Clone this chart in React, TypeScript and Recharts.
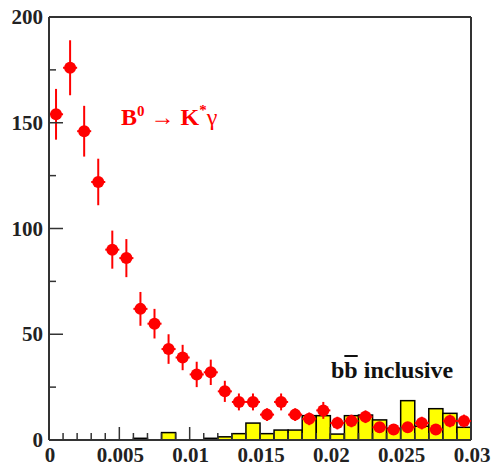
import React from "react";
import {
  ComposedChart,
  Bar,
  Scatter,
  ErrorBar,
  XAxis,
  YAxis,
  ReferenceLine,
} from "recharts";

// bin centres of the 30 bins (0 .. 0.03)
const binCenters = [
  0.0005, 0.0015, 0.0025, 0.0035, 0.0045, 0.0055, 0.0065, 0.0075, 0.0085, 0.0095,
  0.0105, 0.0115, 0.0125, 0.0135, 0.0145, 0.0155, 0.0165, 0.0175, 0.0185, 0.0195,
  0.0205, 0.0215, 0.0225, 0.0235, 0.0245, 0.0255, 0.0265, 0.0275, 0.0285, 0.0295,
];

// B0 -> K* gamma (red points)
const signal = [
  154, 176, 146, 122, 90, 86, 62, 55, 43, 39,
  31, 32, 23, 18, 18, 12, 18, 12, 10, 14,
  8, 9, 11, 6, 5, 6, 8, 5, 9, 9,
];
const signalErr = [
  12, 13, 12, 11, 9, 9, 8, 7, 7, 6,
  6, 6, 5, 4, 4, 3, 4, 3, 3, 4,
  3, 3, 3, 2, 2, 2, 3, 2, 3, 3,
];

// bb inclusive (yellow histogram)
const inclusive = [
  0, 0, 0, 0, 0, 0, 0.8, 0, 3.5, 0,
  0, 0.8, 1.5, 3, 8, 3, 4.7, 4.7, 11.5, 11.5,
  2.8, 11.5, 11.8, 9.5, 5.5, 18.6, 6.5, 14.8, 12.6, 6,
];

const xTicks = [
  0, 0.001, 0.002, 0.003, 0.004, 0.005, 0.006, 0.007, 0.008, 0.009, 0.01,
  0.011, 0.012, 0.013, 0.014, 0.015, 0.016, 0.017, 0.018, 0.019, 0.02,
  0.021, 0.022, 0.023, 0.024, 0.025, 0.026, 0.027, 0.028, 0.029, 0.03,
];
const xMajor = [0, 0.005, 0.01, 0.015, 0.02, 0.025, 0.03];
const xMajorLabels = ["0", "0.005", "0.01", "0.015", "0.02", "0.025", "0.03"];
const yTicks = [0, 25, 50, 75, 100, 125, 150, 175, 200];

const data = binCenters.map((x, i) => ({
  x,
  bb: inclusive[i],
  y: signal[i],
  err: signalErr[i],
}));

const AXIS = "#333";
const FONT = "'Liberation Serif', 'Times New Roman', serif";

function XTick(props: any) {
  const { x, y, payload } = props;
  const i = xMajor.findIndex((m) => Math.abs(m - payload.value) < 1e-9);
  const major = i >= 0;
  return (
    <g>
      <line x1={x} x2={x} y1={y} y2={y - (major ? 13 : 7)} stroke={AXIS} strokeWidth={1.5} />
      {major && (
        <text x={x + 1} y={y + 22} textAnchor="middle" fontFamily={FONT} fontWeight="bold" fontSize={21} fill="#222">
          {xMajorLabels[i]}
        </text>
      )}
    </g>
  );
}

function YTick(props: any) {
  const { x, y, payload } = props;
  const major = payload.value % 50 === 0;
  return (
    <g>
      <line x1={x} x2={x + (major ? 14 : 7)} y1={y} y2={y} stroke={AXIS} strokeWidth={1.5} />
      {major && (
        <text x={x - 6} y={y + 7} textAnchor="end" fontFamily={FONT} fontWeight="bold" fontSize={21} fill="#222">
          {payload.value}
        </text>
      )}
    </g>
  );
}

function HistBar(props: any) {
  const { x, y, width, height } = props;
  if (!height || height <= 0) return null;
  return (
    <rect x={x} y={y} width={width + 0.1} height={height} fill="#ffff00" stroke="#000" strokeWidth={1.5} />
  );
}

function Dot(props: any) {
  const { cx, cy } = props;
  return <circle cx={cx} cy={cy} r={6} fill="#ff0000" />;
}

export default function App() {
  return (
    <div style={{ position: "absolute", left: 0, top: 0, width: 492, height: 466, background: "#fff" }}>
      <ComposedChart
        width={492}
        height={466}
        data={data}
        margin={{ top: 17, right: 21, bottom: 0, left: 0 }}
        barCategoryGap={0}
        barGap={0}
      >
        <XAxis
          type="number"
          dataKey="x"
          domain={[0, 0.03]}
          ticks={xTicks}
          interval={0}
          tick={<XTick />}
          tickSize={0}
          tickMargin={0}
          height={26}
          axisLine={{ stroke: AXIS, strokeWidth: 2 }}
          allowDataOverflow
        />
        <YAxis
          type="number"
          domain={[0, 200]}
          ticks={yTicks}
          interval={0}
          tick={<YTick />}
          tickSize={0}
          tickMargin={0}
          width={49}
          axisLine={{ stroke: AXIS, strokeWidth: 2 }}
          allowDataOverflow
        />
        <ReferenceLine y={200} stroke={AXIS} strokeWidth={2} />
        <ReferenceLine x={0.03} stroke={AXIS} strokeWidth={2} />
        <Bar dataKey="bb" shape={<HistBar />} isAnimationActive={false} />
        <Scatter dataKey="y" shape={<Dot />} isAnimationActive={false}>
          <ErrorBar dataKey="err" direction="y" width={0} stroke="#ff0000" strokeWidth={2} />
          <ErrorBar dataKey={() => 0.0005} direction="x" width={0} stroke="#ff0000" strokeWidth={2} />
        </Scatter>
      </ComposedChart>
      <div
        style={{
          position: "absolute",
          left: 121,
          top: 105,
          fontFamily: FONT,
          fontWeight: "bold",
          fontSize: 24,
          lineHeight: "24px",
          color: "#ff0000",
          whiteSpace: "nowrap",
        }}
      >
        B<span style={{ position: "relative", top: -9, fontSize: 15 }}>0</span>
        <span style={{ fontWeight: "normal", margin: "0 6px" }}>→</span>K
        <span style={{ position: "relative", top: -10, fontSize: 15 }}>*</span>
        <span style={{ fontWeight: "normal" }}>γ</span>
      </div>
      <div
        style={{
          position: "absolute",
          left: 331,
          top: 358,
          fontFamily: FONT,
          fontWeight: "bold",
          fontSize: 24,
          lineHeight: "24px",
          color: "#111",
          whiteSpace: "nowrap",
        }}
      >
        b<span style={{ textDecoration: "overline" }}>b</span> inclusive
      </div>
    </div>
  );
}
